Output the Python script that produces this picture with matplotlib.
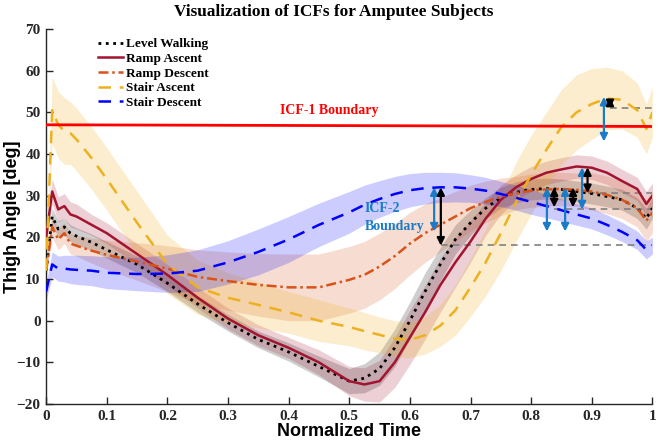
import numpy as np
import matplotlib.pyplot as plt

# normalized time grid shared by every curve
t = [0, .01, .02, .03, .04, .05, .075, .1, .15, .2, .25, .3, .35, .4, .45, .5,
     .525, .55, .575, .6, .625, .65, .675, .7, .725, .75, .775, .8, .825, .85,
     .875, .9, .925, .95, .975, .99, 1.0]

level_walk = [12, 25, 22, 22.5, 21, 20.3, 18.8, 17, 13.5, 9, 4, -0.5, -4.5, -7.5, -11, -14.5,
              -13.8, -11.5, -6.5, 0, 7, 13.5, 19.5, 23.5, 27, 29.5, 30.8, 31.5, 31.7, 31.5,
              31, 30.5, 29.8, 29, 27, 24.5, 27]
level_walk_sd = [1, 2, 2, 2, 2, 2, 2, 2, 2, 2, 2, 2, 2, 2.2, 2.5, 3,
                 3.5, 4, 4.5, 4.5, 4.5, 4, 3.5, 3, 2.5, 2.5, 2.5, 2.5, 2.5, 2.5,
                 2.5, 2.5, 2.5, 2.5, 2.5, 2.5, 2.5]

ramp_asc = [20, 31, 26.7, 27.5, 25.5, 25, 23, 21, 16, 11, 5.5, 0.5, -3.5, -6.5, -10, -14.5,
            -15.3, -14.5, -10, -4, 2, 8.5, 14, 19, 24.5, 29, 32, 34, 35.5, 36.3,
            37, 36.7, 35.5, 33.5, 31.6, 28, 30]
ramp_asc_sd = [2, 3, 3, 3, 3, 3, 2.5, 2.5, 2.5, 2.5, 2.5, 2.5, 2.5, 2.5, 3, 3.5,
               4, 5, 6, 6.5, 6.5, 6.5, 6, 5, 4, 3.5, 3, 3, 2.8, 2.8,
               2.8, 2.8, 2.8, 2.8, 2.8, 3, 3]

ramp_desc = [12, 22.5, 19.5, 21, 18.5, 18, 16.8, 15.8, 14.2, 12.5, 10.5, 9.5, 8.6, 8, 8, 9.8,
             11, 13, 15.5, 18.5, 21, 23, 25, 27, 28.5, 29.7, 30.6, 31.2, 31.5, 31.6,
             31.4, 31, 30.2, 29, 27, 24, 26]
ramp_desc_sd = [1.5, 2.5, 2.5, 2.5, 2.5, 2.5, 3, 3.5, 4.5, 5.5, 6.5, 7, 7.5, 8, 8, 8,
                8, 8, 7.8, 7.5, 7, 6.5, 6, 5.5, 5, 4.5, 4, 4, 4, 4,
                4, 4.5, 4.5, 4.5, 4.5, 5, 5]

stair_asc = [12, 50.5, 47, 45.5, 45, 43.5, 39, 34, 23.5, 13.5, 8, 5.5, 3.8, 2, 0, -1.5,
             -2.5, -3.4, -4.3, -4.6, -3.5, -1.2, 2.5, 8, 14, 21, 28.5, 35, 41, 46.5,
             50, 52, 53.3, 53, 50.5, 46, 50]
stair_asc_sd = [2, 8, 8, 8, 7.5, 7.5, 7.5, 7.5, 7.5, 7, 6.5, 6, 5.5, 5, 5, 4.5,
                4.5, 4.3, 4.3, 4.3, 4.5, 5, 6, 7, 8, 9, 9.5, 9.5, 9, 9,
                9, 8.5, 7.5, 7, 6.5, 6, 6]

stair_desc = [7, 13.5, 12.5, 12.5, 12.3, 12.2, 12, 11.5, 11.2, 11.3, 12, 14, 16.5, 19.5, 23, 26,
              27.8, 29.2, 30.4, 31.3, 31.8, 32, 32, 31.7, 31.2, 30.4, 29.5, 28.5, 27.5, 26.5,
              25.5, 24.5, 23, 21.3, 19.3, 17, 18]
stair_desc_sd = [2, 3, 3, 3.2, 3.4, 3.5, 3.6, 3.8, 4, 4.5, 5, 5.2, 5.5, 5.5, 5.2, 5,
                 4.7, 4.4, 4.2, 4, 3.8, 3.6, 3.5, 3.3, 3.2, 3, 3, 3, 2.8, 2.7,
                 2.6, 2.5, 2.4, 2.3, 2.2, 2.2, 2]

icf1_level = [47, 46.6]

# vertical double arrows: x, y_start, y_end, colour key
arrow_x = [0.64, 0.651, 0.826, 0.838, 0.856, 0.869, 0.884, 0.893, 0.92, 0.93]
arrow_y0 = [32, 32, 32, 32, 32, 32, 36.8, 36.8, 53.7, 53.5]
arrow_y1 = [21.4, 18, 21.4, 27.2, 21.4, 27.2, 26.7, 30.6, 43, 51]
arrow_kind = ['b', 'k', 'b', 'k', 'b', 'k', 'b', 'k', 'b', 'k']

# grey dashed reference levels: y, x_start
ref_y = [18.2, 26.9, 30.6, 51]
ref_x0 = [0.651, 0.838, 0.893, 0.93]

plt.rcParams['font.family'] = ['Liberation Serif', 'DejaVu Serif']
plt.rcParams['font.weight'] = 'bold'

fig = plt.figure(figsize=(6.59, 4.45), dpi=100)
ax = fig.add_axes([0.07, 0.092, 0.92, 0.843])

series = [
    ('Level Walking', level_walk, level_walk_sd, 'black', ':', 'gray', 0.38),
    ('Ramp Ascent', ramp_asc, ramp_asc_sd, '#A2142F', '-', '#A2142F', 0.2),
    ('Ramp Descent', ramp_desc, ramp_desc_sd, '#D95319', (0, (4, 1.5, 1, 1.5)), '#D95319', 0.2),
    ('Stair Ascent', stair_asc, stair_asc_sd, '#EDB120', (0, (5, 3.5)), '#EDB120', 0.22),
    ('Stair Descent', stair_desc, stair_desc_sd, '#0000FF', (0, (5, 3.5)), '#0000FF', 0.2),
]

tt = np.array(t)
for name, m, s, c, ls, fc, a in series:
    m = np.array(m)
    s = np.array(s)
    ax.fill_between(tt, m - s, m + s, color=fc, alpha=a, lw=0, zorder=1)

for yv, x0 in zip(ref_y, ref_x0):
    ax.plot([x0, 1.0], [yv, yv], color='gray', ls=(0, (4, 3)), lw=1.2, zorder=2)

handles = []
for name, m, s, c, ls, fc, a in series:
    lw = 2.0 if ls == ':' else 1.8
    h, = ax.plot(tt, m, color=c, ls=ls, lw=lw, label=name, zorder=3)
    handles.append(h)

ax.plot([0, 1], icf1_level, color='#FF0000', lw=2, zorder=4)
ax.text(0.467, 50.5, 'ICF-1 Boundary', color='#FF0000', fontsize=10,
        fontweight='bold', ha='center', va='center')
ax.text(0.525, 26.8, 'ICF-2', color='#1A7CC8', fontsize=10,
        fontweight='bold', ha='left', va='center')
ax.text(0.525, 22.6, 'Boundary', color='#1A7CC8', fontsize=10,
        fontweight='bold', ha='left', va='center')

for x, y0, y1, k in zip(arrow_x, arrow_y0, arrow_y1, arrow_kind):
    col = '#1A7CC8' if k == 'b' else 'black'
    ax.annotate('', xy=(x, y1), xytext=(x, y0),
                arrowprops=dict(arrowstyle='<|-|>', color=col, lw=1.6,
                                mutation_scale=11, shrinkA=0, shrinkB=0),
                zorder=5)

ax.set_xlim(0, 1)
ax.set_ylim(-20, 70)
ax.set_xticks(np.arange(0, 1.01, 0.1))
ax.set_xticklabels(['0', '0.1', '0.2', '0.3', '0.4', '0.5', '0.6', '0.7', '0.8', '0.9', '1'])
ax.set_yticks(np.arange(-20, 71, 10))
ax.tick_params(direction='in', length=5, width=1, labelsize=11, colors='#262626', pad=4)
for lab in ax.get_xticklabels() + ax.get_yticklabels():
    lab.set_fontweight('bold')
ax.spines['top'].set_visible(False)
ax.spines['right'].set_visible(False)
for sp in ['left', 'bottom']:
    ax.spines[sp].set_color('#262626')
    ax.spines[sp].set_linewidth(1.0)

ax.set_xlabel('Normalized Time', family='Liberation Sans', fontsize=13,
              fontweight='bold', labelpad=0)
ax.set_ylabel('Thigh Angle [deg]', family='Liberation Sans', fontsize=13,
              fontweight='bold', labelpad=-3)
ax.set_title('Visualization of ICFs for Amputee Subjects', fontsize=12.4,
             fontweight='bold', x=0.475, pad=9)

leg = ax.legend(handles=handles, loc='upper left', bbox_to_anchor=(0.07, 1.0),
                frameon=False, fontsize=9.5, handlelength=1.9, handletextpad=0.2,
                labelspacing=0.18, borderaxespad=0.3)
for txt in leg.get_texts():
    txt.set_fontweight('bold')

fig.savefig('out.png', dpi=100)
